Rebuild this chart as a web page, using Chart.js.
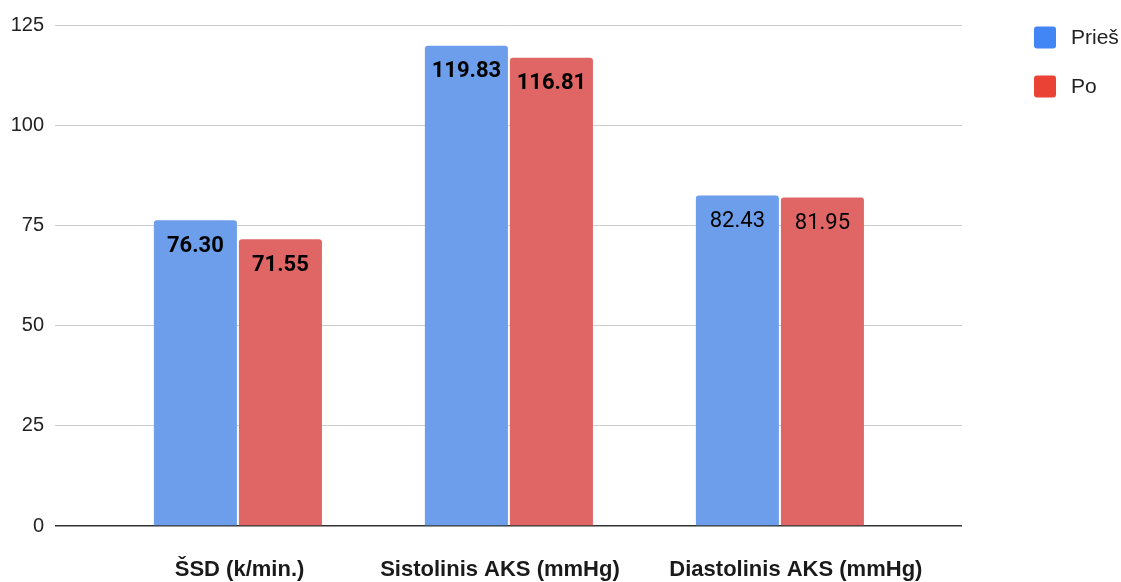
<!DOCTYPE html>
<html>
<head>
<meta charset="utf-8">
<title>ŠSD ir AKS prieš ir po</title>
<script src="https://cdn.jsdelivr.net/npm/chart.js@4.4.1/dist/chart.umd.min.js"></script>
<style>
  html, body { margin: 0; padding: 0; background: #ffffff; }
  #wrap { width: 1121px; height: 582px; position: relative; }
</style>
</head>
<body>
<div id="wrap"><canvas id="chart"></canvas></div>
<script>
// Measurements, before and after
const categories = ['ŠSD (k/min.)', 'Sistolinis AKS (mmHg)', 'Diastolinis AKS (mmHg)'];
const seriesNames = ['Prieš', 'Po'];
const pries = [76.30, 119.83, 82.43];
const po = [71.55, 116.81, 81.95];
const yTicks = [0, 25, 50, 75, 100, 125];

const barColors = ['#6d9eeb', '#e06666'];
const legendColors = ['#4285f4', '#ea4335'];
const valueLabelWeights = ['bold', 'bold', 'normal'];
// small horizontal nudges of the category captions, in category units
const captionShift = [0.006, -0.033, 0.059];

const toPoints = arr => arr.map((v, i) => ({ x: i, y: v }));

// Value labels drawn just inside the top of each bar
const valueLabels = {
  id: 'valueLabels',
  afterDatasetsDraw(chart) {
    const ctx = chart.ctx;
    ctx.save();
    ctx.textAlign = 'center';
    ctx.textBaseline = 'middle';
    ctx.fillStyle = '#000000';
    chart.data.datasets.forEach((ds, di) => {
      const meta = chart.getDatasetMeta(di);
      meta.data.forEach((bar, i) => {
        const v = ds.data[i].y;
        ctx.font = valueLabelWeights[i] + ' 22px Roboto, "Liberation Sans", sans-serif';
        ctx.fillText(v.toFixed(2), bar.x, bar.y + 26);
      });
    });
    ctx.restore();
  }
};

// Legend in the top-right corner
const sideLegend = {
  id: 'sideLegend',
  afterDraw(chart) {
    const ctx = chart.ctx;
    ctx.save();
    ctx.textAlign = 'left';
    ctx.textBaseline = 'middle';
    ctx.font = '21px "Liberation Sans", Arial, sans-serif';
    chart.data.datasets.forEach((ds, i) => {
      const cy = 37.5 + i * 49;
      ctx.fillStyle = legendColors[i];
      ctx.beginPath();
      ctx.roundRect(1034, cy - 11, 22, 22, 3);
      ctx.fill();
      ctx.fillStyle = '#222222';
      ctx.fillText(ds.label, 1071, cy + 1);
    });
    ctx.restore();
  }
};

new Chart(document.getElementById('chart'), {
  type: 'bar',
  data: {
    datasets: [
      { label: seriesNames[0], data: toPoints(pries), backgroundColor: barColors[0] },
      { label: seriesNames[1], data: toPoints(po), backgroundColor: barColors[1] }
    ]
  },
  plugins: [valueLabels, sideLegend],
  options: {
    responsive: true,
    maintainAspectRatio: false,
    animation: false,
    layout: { padding: { top: 25, right: 159, bottom: 0, left: 0 } },
    datasets: {
      bar: {
        categoryPercentage: 0.653,
        barPercentage: 0.9765,
        borderRadius: 3,
        borderSkipped: 'start'
      }
    },
    plugins: {
      legend: { display: false },
      tooltip: { enabled: false }
    },
    scales: {
      x: {
        type: 'linear',
        offset: false,
        min: -0.675,
        max: 2.672,
        afterBuildTicks(scale) {
          scale.ticks = categories.map((_, i) => ({ value: i + captionShift[i] }));
        },
        afterFit(scale) {
          scale.height = 56;
        },
        grid: { display: false, drawTicks: false, offset: false },
        border: { display: false },
        ticks: {
          autoSkip: false,
          maxRotation: 0,
          padding: 31,
          color: '#1a1a1a',
          font: { family: '"Liberation Sans", Arial, sans-serif', size: 22, weight: 'bold' },
          callback: (v, i) => categories[i]
        }
      },
      y: {
        min: yTicks[0],
        max: yTicks[yTicks.length - 1],
        afterBuildTicks(scale) {
          scale.ticks = yTicks.map(v => ({ value: v }));
        },
        afterFit(scale) {
          scale.width = 55;
        },
        grid: {
          drawTicks: false,
          color: c => (c.tick && c.tick.value === 0) ? '#333333' : '#cccccc',
          lineWidth: c => (c.tick && c.tick.value === 0) ? 1.5 : 1
        },
        border: { display: false },
        ticks: {
          padding: 11,
          color: '#222222',
          font: { family: '"Liberation Sans", Arial, sans-serif', size: 20 }
        }
      }
    }
  }
});
</script>
</body>
</html>
